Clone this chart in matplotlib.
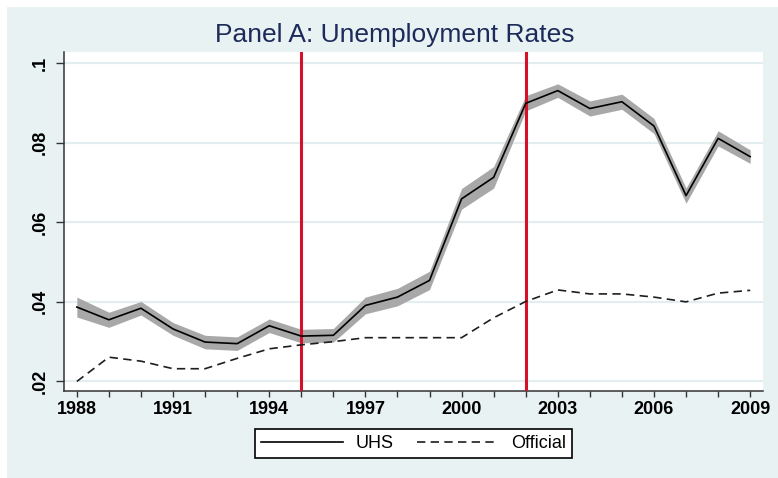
import numpy as np
import matplotlib
matplotlib.use("Agg")
import matplotlib.pyplot as plt
from matplotlib.patches import Rectangle

plt.rcParams["font.family"] = ["Liberation Sans", "DejaVu Sans"]

## data
years = list(range(1988, 2010))
uhs = [.0387, .0355, .0384, .0332, .0299, .0295, .0340, .0314, .0316, .0391, .0412,
       .0454, .0659, .0713, .0899, .0931, .0886, .0903, .0842, .0667, .0811, .0765]
uhs_ci = [.0025, .0019, .0017, .0016, .0017, .0017, .0017, .0017, .0017, .0021, .0022,
          .0023, .0026, .0027, .0019, .0017, .0019, .0019, .0019, .0019, .0019, .0017]
official = [.0200, .0261, .0251, .0232, .0232, .0258, .0282, .0292, .0300, .0310, .0310,
            .0310, .0310, .0360, .0401, .0430, .0420, .0420, .0412, .0400, .0422, .0429]
event_years = [1995, 2002]
xtick_years = list(range(1988, 2010, 3))
ytick_vals = [.02, .04, .06, .08, .1]
ytick_labels = [".02", ".04", ".06", ".08", ".1"]
series_names = ["UHS", "Official"]

W, H = 778, 478
fig = plt.figure(figsize=(W / 100, H / 100), dpi=100)
fig.patch.set_facecolor("white")
bg = "#e9f2f3"
fig.patches.append(Rectangle((7 / W, 0), 771 / W, 471 / H, transform=fig.transFigure,
                             facecolor=bg, edgecolor="none", zorder=-10))

ax = fig.add_axes([64 / W, 1 - 391 / H, (763 - 64) / W, (391 - 52) / H])
ax.set_facecolor("white")

uhs = np.array(uhs)
uhs_ci = np.array(uhs_ci)
ax.fill_between(years, uhs - uhs_ci, uhs + uhs_ci, color="#a8a8a8", lw=0, zorder=2)
for yr in event_years:
    ax.axvline(yr, color="#d7102a", lw=2.2, zorder=3)
ax.plot(years, uhs, color="black", lw=1.2, zorder=4, label=series_names[0])
ax.plot(years, official, color="#1e1e1e", lw=1.2, dashes=(5, 3.2), zorder=4,
        label=series_names[1])

ax.set_xlim(1987.6, 2009.4)
ax.set_ylim(.0176, .1028)
ax.set_yticks(ytick_vals)
ax.set_yticklabels(ytick_labels, rotation=90, va="center", fontsize=13, fontweight="bold")
ax.set_xticks(xtick_years)
ax.set_xticks(years, minor=True)
ax.set_xticklabels([str(y) for y in xtick_years], fontsize=13, fontweight="bold")
ax.grid(axis="y", color="#e4eef0", lw=1.6, zorder=0)
ax.set_axisbelow(True)

for s in ["top", "right"]:
    ax.spines[s].set_visible(False)
for s in ["left", "bottom"]:
    ax.spines[s].set_color("#333333")
    ax.spines[s].set_linewidth(1.1)
ax.tick_params(axis="y", length=6, width=1.0, color="#333333", pad=5)
ax.tick_params(axis="x", which="both", length=4.5, width=1.0, color="#333333", pad=3)

fig.text(395 / W, 1 - 35 / H, "Panel A: Unemployment Rates", ha="center", va="center",
         fontsize=19, color="#1c2b5a")

leg = fig.legend(loc="center", bbox_to_anchor=(413.5 / W, 1 - 443.4 / H), ncol=2,
                 fontsize=13, handlelength=4.5, columnspacing=1.3, handletextpad=0.7,
                 borderpad=0.35, fancybox=False, framealpha=1, edgecolor="black")
leg.get_frame().set_linewidth(1.2)

fig.savefig("out.png", dpi=100, facecolor="white")
